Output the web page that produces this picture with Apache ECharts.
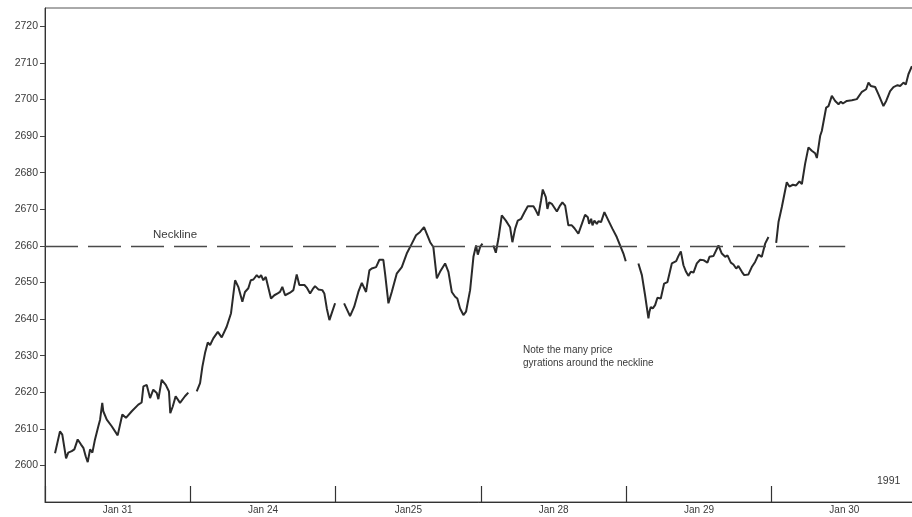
<!DOCTYPE html>
<html>
<head>
<meta charset="utf-8">
<script src="https://cdn.jsdelivr.net/npm/echarts@6/dist/echarts.min.js"></script>
<style>
html,body{margin:0;padding:0;background:#fff;}
#chart{width:912px;height:517px;}
</style>
</head>
<body>
<div id="chart"></div>
<script>
// Session labels (as printed on the chart)
const dayLabels = ['Jan 31', 'Jan 24', 'Jan25', 'Jan 28', 'Jan 29', 'Jan 30'];

// Y tick labels shown on the axis
const yTickValues = [2600, 2610, 2620, 2630, 2640, 2650, 2660, 2670, 2680, 2690, 2700, 2710, 2720];

// Time positions are in "session" units (0..6), prices are index values
const day1Times = [0.069,0.103,0.119,0.145,0.160,0.184,0.202,0.225,0.248,0.264,0.280,0.294,0.310,0.326,0.344,0.367,0.379,0.394,0.401,0.425,0.459,0.500,0.532,0.557,0.597,0.642,0.665,0.677,0.700,0.711,0.723,0.745,0.769,0.780,0.803,0.831,0.853,0.862,0.872,0.879,0.899,0.929,0.963,0.986];
const day1Prices = [2603.3,2609.3,2608.4,2601.9,2603.5,2603.9,2604.4,2607.1,2605.7,2604.8,2602.5,2600.9,2604.4,2603.5,2607.1,2610.7,2612.5,2617.1,2614.8,2612.5,2610.7,2608.2,2613.9,2613.0,2614.8,2616.6,2617.2,2621.6,2622.0,2622.0,2618.4,2620.7,2619.8,2618.1,2623.4,2622.0,2620.2,2614.3,2613.9,2616.1,2618.9,2617.1,2618.9,2619.9];

const day2Times = [1.044,1.067,1.083,1.101,1.120,1.136,1.158,1.189,1.216,1.250,1.280,1.308,1.330,1.358,1.376,1.399,1.416,1.434,1.457,1.473,1.487,1.502,1.519,1.555,1.578,1.601,1.617,1.633,1.652,1.686,1.709,1.732,1.750,1.785,1.801,1.824,1.846,1.858,1.881,1.908,1.922,1.939,1.957,1.973,1.996];
const day2Prices = [2620.2,2622.5,2627.0,2630.7,2633.6,2632.9,2634.7,2636.5,2635.0,2637.9,2641.6,2650.6,2648.8,2644.7,2647.4,2648.4,2650.6,2650.8,2652.0,2651.3,2652.0,2650.6,2651.5,2645.6,2646.5,2647.0,2647.4,2648.8,2646.5,2647.2,2647.9,2652.2,2649.3,2649.3,2648.6,2647.0,2648.4,2649.0,2648.1,2647.9,2647.0,2642.9,2639.7,2641.6,2644.3];

const day3Times = [2.058,2.099,2.127,2.156,2.180,2.209,2.232,2.248,2.259,2.278,2.301,2.328,2.340,2.363,2.386,2.420,2.455,2.489,2.524,2.553,2.581,2.608,2.627,2.650,2.672,2.696,2.718,2.753,2.776,2.799,2.822,2.837,2.856,2.879,2.897,2.925,2.948,2.966,2.978,2.994,3.010];
const day3Prices = [2644.3,2640.8,2643.3,2647.4,2649.9,2647.4,2653.3,2653.8,2653.3,2654.2,2656.2,2656.2,2652.4,2644.3,2647.4,2652.4,2654.2,2657.9,2660.6,2662.9,2663.8,2665.1,2663.3,2661.0,2659.7,2651.1,2652.9,2655.2,2652.9,2647.4,2646.1,2645.6,2642.9,2641.1,2642.0,2647.9,2657.0,2660.1,2657.6,2659.7,2660.6];

const day4Times = [3.085,3.102,3.120,3.143,3.171,3.200,3.216,3.235,3.253,3.276,3.299,3.322,3.361,3.377,3.395,3.413,3.425,3.446,3.457,3.469,3.487,3.498,3.522,3.544,3.560,3.579,3.601,3.625,3.643,3.670,3.694,3.716,3.735,3.744,3.758,3.767,3.780,3.797,3.808,3.826,3.849,3.877,3.904,3.934,3.957,3.980,3.996];
const day4Prices = [2660.1,2658.1,2662.0,2668.3,2666.9,2665.1,2661.0,2664.7,2666.9,2667.4,2669.2,2670.8,2670.8,2669.7,2668.3,2672.4,2675.4,2673.3,2670.1,2671.9,2671.5,2671.9,2669.4,2671.0,2671.9,2671.0,2665.6,2665.6,2664.8,2663.3,2666.0,2668.5,2667.8,2666.0,2667.4,2665.6,2666.9,2666.0,2666.7,2666.5,2669.2,2666.9,2664.7,2662.4,2660.1,2657.9,2655.8];

const day5Times = [4.083,4.107,4.129,4.152,4.159,4.168,4.182,4.198,4.214,4.237,4.260,4.283,4.313,4.343,4.358,4.375,4.393,4.411,4.427,4.444,4.462,4.485,4.508,4.531,4.558,4.572,4.599,4.634,4.657,4.680,4.696,4.719,4.737,4.756,4.771,4.795,4.811,4.840,4.863,4.886,4.909,4.932,4.955,4.978];
const day5Prices = [2655.2,2652.0,2646.5,2640.2,2642.0,2643.3,2642.9,2643.8,2645.8,2645.6,2649.7,2650.1,2655.2,2655.8,2657.2,2658.5,2654.7,2652.9,2651.8,2652.9,2652.7,2655.2,2656.2,2656.1,2655.4,2657.0,2657.2,2660.1,2657.9,2657.0,2657.4,2655.4,2654.9,2653.8,2654.5,2652.9,2652.0,2652.2,2654.2,2655.6,2657.6,2657.0,2660.6,2662.4];

const day6Times = [5.031,5.047,5.070,5.104,5.122,5.146,5.168,5.191,5.208,5.230,5.253,5.276,5.299,5.311,5.334,5.345,5.356,5.375,5.391,5.414,5.437,5.460,5.476,5.490,5.517,5.552,5.586,5.621,5.650,5.666,5.682,5.712,5.735,5.769,5.788,5.815,5.838,5.866,5.884,5.907,5.923,5.941,5.965];
const day6Prices = [2660.8,2666.5,2670.6,2677.4,2676.2,2676.7,2676.5,2677.6,2676.9,2682.4,2686.9,2686.0,2685.3,2684.0,2690.1,2691.4,2691.0,2697.8,2698.2,2701.0,2699.6,2698.7,2699.4,2698.9,2699.6,2699.8,2700.1,2702.1,2702.8,2704.6,2703.7,2703.4,2701.4,2698.2,2699.6,2702.3,2703.4,2703.9,2703.7,2704.6,2704.1,2706.9,2709.1];

const necklineValue = 2660;
const necklineStart = 0;
const necklineEnd = 5.506;

const yMin = 2590, yMax = 2725, yStep = 10;

const segments = [
  [day1Times, day1Prices], [day2Times, day2Prices], [day3Times, day3Prices],
  [day4Times, day4Prices], [day5Times, day5Prices], [day6Times, day6Prices]
];

const textColor = '#3a3a3a';
const font = '"Liberation Sans", Arial, Helvetica, sans-serif';

const series = segments.map((seg, i) => {
  const s = {
    type: 'line',
    xAxisIndex: 1,
    yAxisIndex: 0,
    symbol: 'none',
    silent: true,
    lineStyle: { color: '#2a2a2a', width: 2 },
    data: seg[0].map((t, k) => [t, seg[1][k]])
  };
  if (i === 0) {
    s.markLine = {
      silent: true,
      symbol: ['none', 'none'],
      label: { show: false },
      lineStyle: { color: '#4a4a4a', width: 1.3, type: [33, 10] },
      data: [[{ coord: [necklineStart, necklineValue] }, { coord: [necklineEnd, necklineValue] }]]
    };
  }
  return s;
});

const chart = echarts.init(document.getElementById('chart'), null, { renderer: 'canvas' });
chart.setOption({
  animation: false,
  backgroundColor: '#ffffff',
  textStyle: { fontFamily: font },
  grid: {
    left: 45, top: 8, bottom: 15, right: -5,
    show: true, borderColor: '#555', borderWidth: 1,
    containLabel: false, outerBoundsMode: 'none'
  },
  xAxis: [
    {
      type: 'category',
      data: dayLabels,
      boundaryGap: true,
      axisLine: { show: true, lineStyle: { color: '#333', width: 1 } },
      axisTick: { show: true, inside: true, length: 16, interval: 0, lineStyle: { color: '#333', width: 1.2 } },
      axisLabel: { color: textColor, fontSize: 10, fontFamily: font, margin: 3, interval: 0 },
      splitLine: { show: false }
    },
    {
      type: 'value',
      min: 0, max: 6,
      show: false,
      splitLine: { show: false }
    }
  ],
  yAxis: {
    type: 'value',
    min: yMin, max: yMax, interval: yStep,
    axisLine: { show: true, lineStyle: { color: '#333', width: 1 } },
    axisTick: { show: true, length: 5, lineStyle: { color: '#444' }, customValues: yTickValues },
    axisLabel: {
      color: textColor, fontSize: 10.5, fontFamily: font, margin: 7,
      customValues: yTickValues,
      formatter: v => String(v)
    },
    splitLine: { show: false }
  },
  graphic: [
    { type: 'text', left: 153, top: 229, style: { text: 'Neckline', fill: textColor, font: '11.5px ' + font } },
    { type: 'text', left: 523, top: 343, style: { text: 'Note the many price\ngyrations around the neckline', fill: textColor, font: '10px ' + font, lineHeight: 13.5 } },
    { type: 'text', left: 877, top: 476, style: { text: '1991', fill: textColor, font: '10.5px ' + font } }
  ],
  series: series
});
</script>
</body>
</html>
